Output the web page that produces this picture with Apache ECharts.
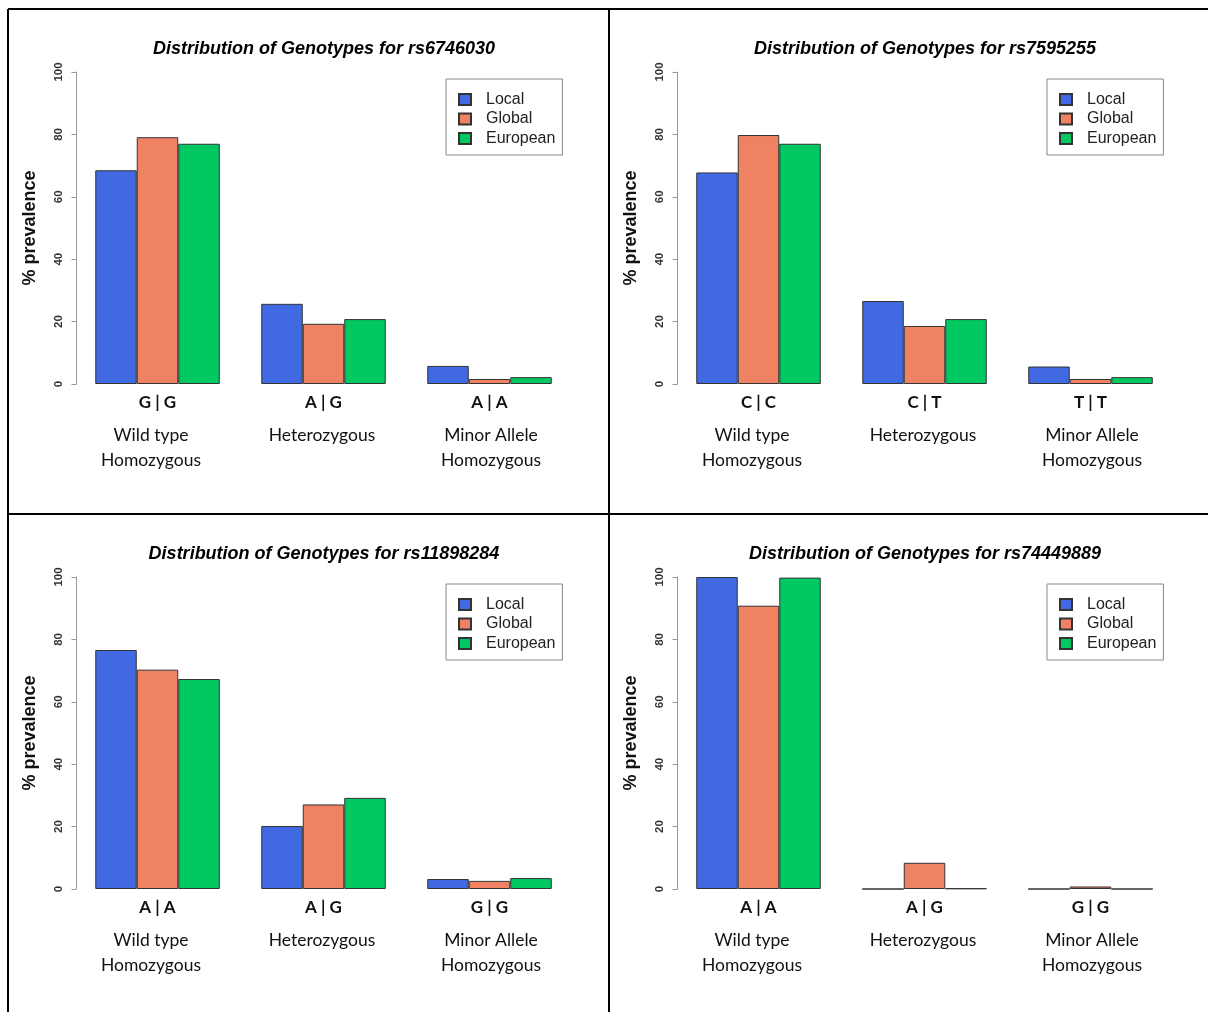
<!DOCTYPE html>
<html>
<head>
<meta charset="utf-8">
<style>
  html, body { margin: 0; padding: 0; background: #fff; }
  #chart { width: 1208px; height: 1012px; }
</style>
<script src="https://cdn.jsdelivr.net/npm/echarts@6/dist/echarts.min.js"></script>
</head>
<body>
<div id="chart"></div>
<script>
// SNP identifiers, one per panel (left-to-right, top-to-bottom)
const snpIds = ["rs6746030", "rs7595255", "rs11898284", "rs74449889"];

// Genotype labels for each panel's three bar groups
const genotypes = [
  ["G | G", "A | G", "A | A"],
  ["C | C", "C | T", "T | T"],
  ["A | A", "A | G", "G | G"],
  ["A | A", "A | G", "G | G"]
];

// Genotype class descriptions shown under each group
const genotypeClasses = ["Wild type\nHomozygous", "Heterozygous", "Minor Allele\nHomozygous"];

// Population names
const populations = ["Local", "Global", "European"];

// % prevalence per genotype group, one row per SNP
const localPct = [
  [68.5, 25.7, 5.8],
  [67.8, 26.6, 5.6],
  [76.6, 20.2, 3.2],
  [100, 0, 0]
];
const globalPct = [
  [79.1, 19.3, 1.6],
  [79.8, 18.6, 1.6],
  [70.3, 27.1, 2.6],
  [90.8, 8.4, 0.8]
];
const europeanPct = [
  [77.0, 20.8, 2.2],
  [77.0, 20.8, 2.2],
  [67.3, 29.2, 3.5],
  [99.8, 0.2, 0]
];

// Y axis ticks
const yTicks = [0, 20, 40, 60, 80, 100];

const popColors = ["#4169e1", "#ee8262", "#00c962"];
const popData = [localPct, globalPct, europeanPct];

// panel placement (2 x 2)
const panelDX = [0, 601, 0, 601];
const panelDY = [0, 0, 505, 505];

// horizontal nudge of the class descriptions under each group
const classPad = [[0, 13, 0, 0], [0, 3, 0, 0], [0, 0, 0, 3]];

const chart = echarts.init(document.getElementById("chart"), null, { renderer: "canvas" });

const titles = [], grids = [], xAxes = [], yAxes = [], series = [], legends = [];

const labelRich = {
  g: { fontFamily: "Lato", fontWeight: "bold", fontSize: 17, lineHeight: 41, color: "#111" }
};
classPad.forEach((pad, i) => {
  labelRich["d" + i] = { fontFamily: "Lato", fontSize: 17.5, lineHeight: 25, color: "#111", padding: pad };
});

snpIds.forEach((id, p) => {
  const dx = panelDX[p], dy = panelDY[p];

  titles.push({
    text: "Distribution of Genotypes for " + id,
    left: 319 + dx,
    top: 35 + dy,
    textAlign: "center",
    textStyle: {
      fontFamily: "Liberation Sans",
      fontSize: 18,
      fontWeight: "bold",
      fontStyle: "italic",
      color: "#000"
    }
  });

  grids.push({ left: 74.5 + dx, top: 72 + dy, width: 498, height: 312 });

  xAxes.push({
    type: "category",
    gridIndex: p,
    data: genotypes[p],
    axisLine: { show: false },
    axisTick: { show: false },
    axisLabel: {
      margin: -2,
      interval: 0,
      formatter: (val, idx) => {
        const cls = genotypeClasses[idx].split("\n").map(s => "{d" + idx + "|" + s + "}").join("\n");
        return "{g|" + val + "}\n" + cls;
      },
      rich: labelRich
    }
  });

  yAxes.push({
    type: "value",
    gridIndex: p,
    min: yTicks[0],
    max: yTicks[yTicks.length - 1],
    interval: yTicks[1] - yTicks[0],
    offset: -2,
    name: "% prevalence",
    nameLocation: "middle",
    nameGap: 37,
    nameTextStyle: { fontFamily: "Liberation Sans", fontSize: 18, fontWeight: "bold", color: "#111" },
    splitLine: { show: false },
    axisLine: { show: true, lineStyle: { color: "#999", width: 1 } },
    axisTick: { show: true, length: 5, lineStyle: { color: "#999", width: 1 } },
    axisLabel: {
      rotate: 90,
      margin: 12,
      fontFamily: "Liberation Sans",
      fontSize: 11.5,
      fontWeight: "bold",
      color: "#333"
    }
  });

  populations.forEach((name, s) => {
    series.push({
      type: "bar",
      name: name,
      xAxisIndex: p,
      yAxisIndex: p,
      data: popData[s][p],
      barGap: "0%",
      barCategoryGap: "25%",
      itemStyle: { color: popColors[s], borderColor: "#333", borderWidth: 1 },
      emphasis: { disabled: true },
      silent: true
    });
  });

  legends.push({
    data: populations,
    orient: "vertical",
    left: 446 + dx,
    top: 79 + dy,
    width: 117,
    padding: [11, 7, 7, 12],
    itemGap: 0.5,
    itemWidth: 12,
    itemHeight: 11,
    icon: "rect",
    borderColor: "#888",
    borderWidth: 1,
    selectedMode: false,
    textStyle: {
      fontFamily: "Liberation Sans",
      fontSize: 16,
      lineHeight: 19,
      color: "#222",
      padding: [0, 0, 0, 10]
    }
  });
});

// panel frame lines
const frame = [
  [8, 9, 1208, 9],
  [8, 9, 8, 1012],
  [609, 9, 609, 1012],
  [8, 514, 1208, 514]
].map(([x1, y1, x2, y2]) => ({
  type: "line",
  shape: { x1, y1, x2, y2 },
  style: { stroke: "#000", lineWidth: 2 },
  silent: true
}));

chart.setOption({
  animation: false,
  backgroundColor: "#fff",
  title: titles,
  grid: grids,
  xAxis: xAxes,
  yAxis: yAxes,
  legend: legends,
  series: series,
  graphic: frame
});
</script>
</body>
</html>
